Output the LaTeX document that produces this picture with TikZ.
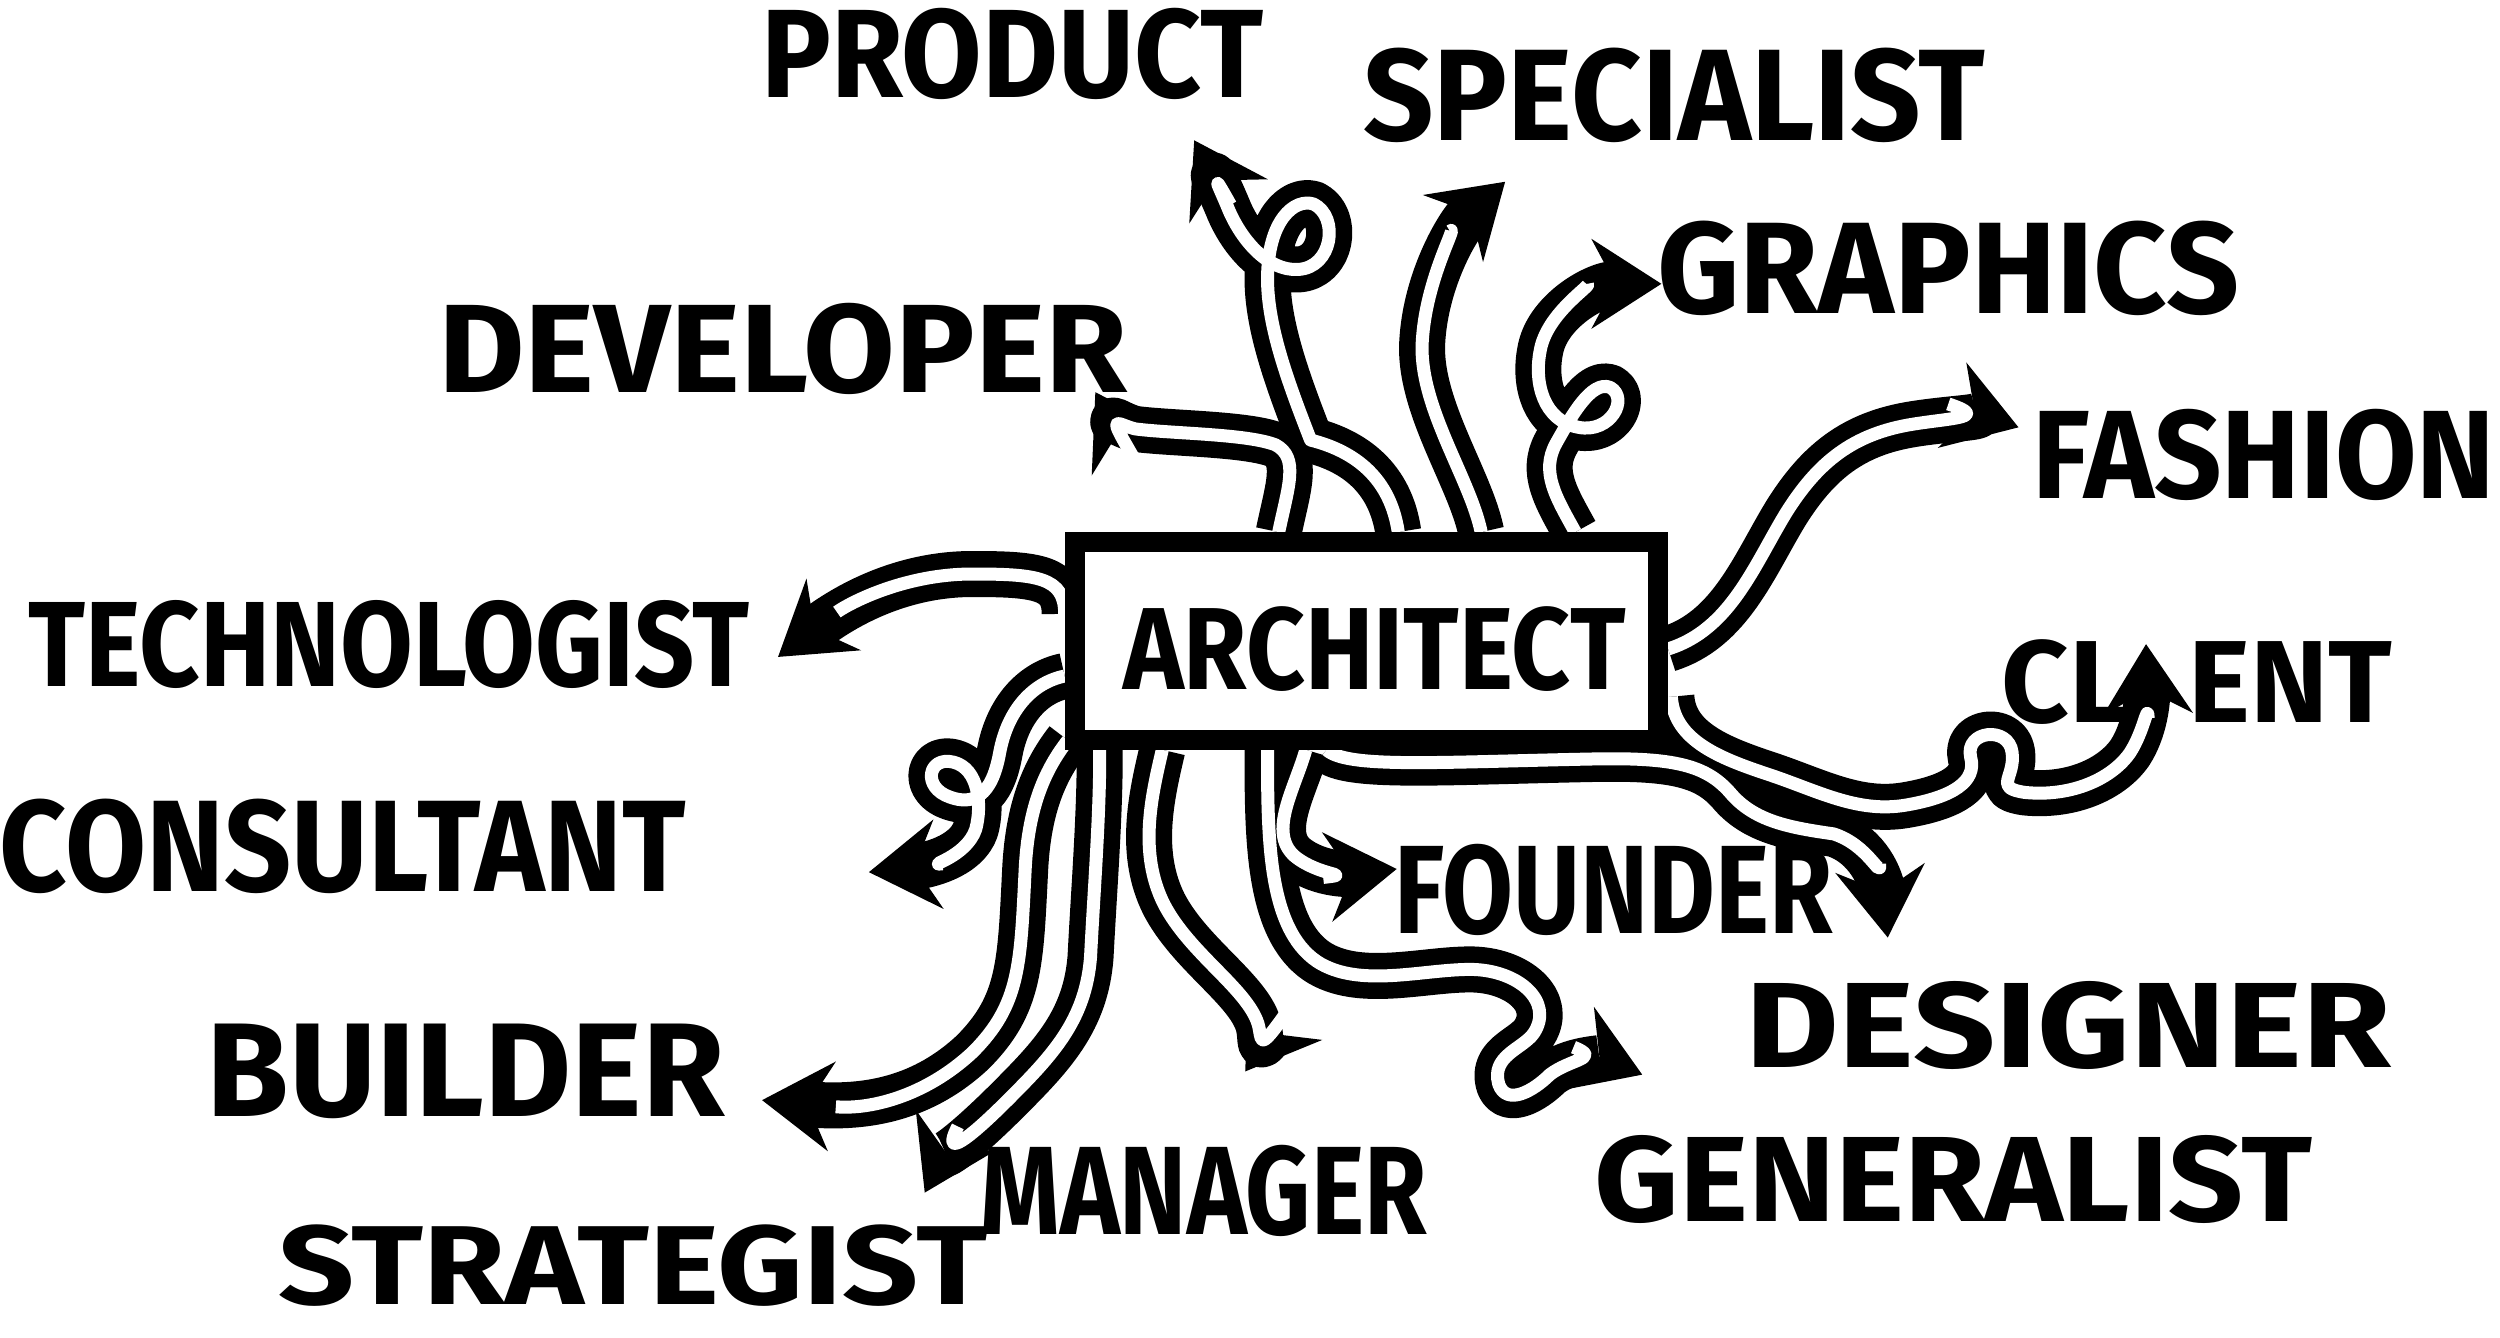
\documentclass[tikz,border=0pt]{standalone}
\usepackage{fontspec}
\setmainfont{Fira Sans}
\usepackage{graphicx}
\usetikzlibrary{arrows.meta,calc,backgrounds}
\newlength\su
\setlength\su{0.15944mm}
\newcommand\lbl[3]{\resizebox{#1\su}{#2\su}{\bfseries #3}}
\tikzset{
  word/.style={inner sep=0pt},
  frame/.style={draw, fill=white, line width=0.2cm, minimum width=5.835cm, minimum height=1.977cm, inner sep=0pt},
  tubeout/.style={draw=black, line width=0.46cm, line join=round,
    -{Stealth[length=0.7cm, width=0.9cm, inset=0.24cm, line width=0.5pt]}},
  tubein/.style={draw=white, line width=0.13cm, line join=round, shorten >=0.74cm}
}
\newcommand\rolebranches[1]{%
  % left side
  \draw[#1] ($(box.west)+(0,-17)$) .. controls (668,362) and (650,360) .. (610,360) .. controls (565,360) and (530,380) .. (488,412);
  \draw[#1] ($(box.west)+(0,22)$) .. controls (648,428) and (632,445) .. (627,472) .. controls (622,500) and (610,505) .. (596,500) .. controls (578,494) and (582,474) .. (598,478) .. controls (614,482) and (616,505) .. (612,520) .. controls (606,538) and (580,543) .. (545,547);
  % bottom
  \draw[#1] ($(box.south west)+(2,-6)$) .. controls (656,482) and (645,505) .. (643,545) .. controls (640,605) and (640,630) .. (610,660) .. controls (580,688) and (545,696) .. (478,690);
  \draw[#1] ($(box.south west)+(22,0)$) .. controls (690,510) and (686,560) .. (684,600) .. controls (681,640) and (660,662) .. (632,690) .. controls (608,714) and (590,728) .. (580,748);
  \draw[#1] ($(box.south)+(-128,0)$) .. controls (722,500) and (714,535) .. (730,567) .. controls (746,598) and (782,620) .. (789,642) .. controls (792,652) and (788,662) .. (781,672);
  \draw[#1] ($(box.south)+(-62,0)$) .. controls (795,525) and (795,582) .. (826,603) .. controls (852,620) and (892,608) .. (922,608) .. controls (952,608) and (975,628) .. (962,648) .. controls (955,658) and (935,662) .. (940,680) .. controls (945,694) and (962,684) .. (972,674) .. controls (985,664) and (1005,664) .. (1030,674);
  \draw[#1] ($(box.south)+(-38,0)$) .. controls (812,495) and (795,522) .. (812,537) .. controls (828,550) and (850,548) .. (876,545);
  \draw[#1] ($(box.south)+(-25,0)$) .. controls (845,482) and (900,478) .. (1000,476) .. controls (1050,475) and (1070,480) .. (1085,497) .. controls (1100,515) and (1122,519) .. (1150,523) .. controls (1172,530) and (1180,552) .. (1184,588);
  % right side
  \draw[#1] ($(box.east)+(2,35)$) .. controls (1050,465) and (1080,476) .. (1110,486) .. controls (1140,496) and (1165,510) .. (1195,505) .. controls (1225,500) and (1240,490) .. (1236,475) .. controls (1232,458) and (1260,455) .. (1262,472) .. controls (1264,488) and (1250,494) .. (1270,497) .. controls (1300,500) and (1325,488) .. (1336,472) .. controls (1345,458) and (1347,440) .. (1346,404);
  \draw[#1] ($(box.east)+(0,5)$) .. controls (1085,395) and (1100,355) .. (1120,322) .. controls (1140,290) and (1162,272) .. (1200,266) .. controls (1225,262) and (1248,262) .. (1266,268);
  % top
  \draw[#1] ($(box.north)+(131,0)$) .. controls (976,312) and (966,296) .. (976,278) .. controls (985,262) and (998,238) .. (1010,243) .. controls (1022,250) and (1010,272) .. (990,268) .. controls (968,264) and (962,240) .. (966,220) .. controls (970,196) and (1000,178) .. (1042,178);
  \draw[#1] ($(box.north)+(72,0)$) .. controls (922,300) and (890,255) .. (892,215) .. controls (894,175) and (915,140) .. (944,114);
  \draw[#1] ($(box.north)+(20,0)$) .. controls (872,300) and (850,283) .. (822,276) .. controls (808,240) and (795,205) .. (795,175) .. controls (795,138) and (812,124) .. (824,128) .. controls (840,136) and (836,168) .. (814,169) .. controls (795,170) and (778,150) .. (770,130) .. controls (765,118) and (758,104) .. (749,88);
  \draw[#1] ($(box.north)+(-55,0)$) .. controls (808,305) and (815,287) .. (800,279) .. controls (782,272) and (735,272) .. (712,269) .. controls (700,266) and (694,258) .. (687,246);
}

\begin{document}
\begin{tikzpicture}[x=0.15944mm, y=-0.15944mm]
\useasboundingbox (0,0) rectangle (1568,839);

\node[frame] (box) at (857,402) {};
\node[word] (arch) at (862,407) {\lbl{315}{52}{ARCHITECT}};

\node[word] (product) at (635,34) {\lbl{315}{56}{PRODUCT}};
\node[word] (specialist) at (1050,60) {\lbl{390}{58}{SPECIALIST}};
\node[word] (developer) at (491,219) {\lbl{432}{56}{DEVELOPER}};
\node[word] (graphics) at (1222,168) {\lbl{365}{58}{GRAPHICS}};
\node[word] (fashion) at (1420,285) {\lbl{290}{56}{FASHION}};
\node[word] (technologist) at (244,404) {\lbl{452}{54}{TECHNOLOGIST}};
\node[word] (client) at (1378,428) {\lbl{245}{52}{CL\hspace{0.5em}ENT}};
\node[word] (consultant) at (215,531) {\lbl{430}{58}{CONSULTANT}};
\node[word] (founder) at (1012,558) {\lbl{275}{56}{FOUNDER}};
\node[word] (builder) at (292,672) {\lbl{325}{58}{BUILDER}};
\node[word] (designer) at (1297,643) {\lbl{405}{54}{DESIGNER}};
\node[word] (strategist) at (397,794) {\lbl{445}{50}{STRATEGIST}};
\node[word] (manager) at (755,747) {\lbl{280}{56}{MANAGER}};
\node[word] (generalist) at (1225,740) {\lbl{450}{54}{GENERALIST}};

\begin{pgfonlayer}{background}
  \rolebranches{tubeout}
  \rolebranches{tubein}
\end{pgfonlayer}
\end{tikzpicture}
\end{document}
